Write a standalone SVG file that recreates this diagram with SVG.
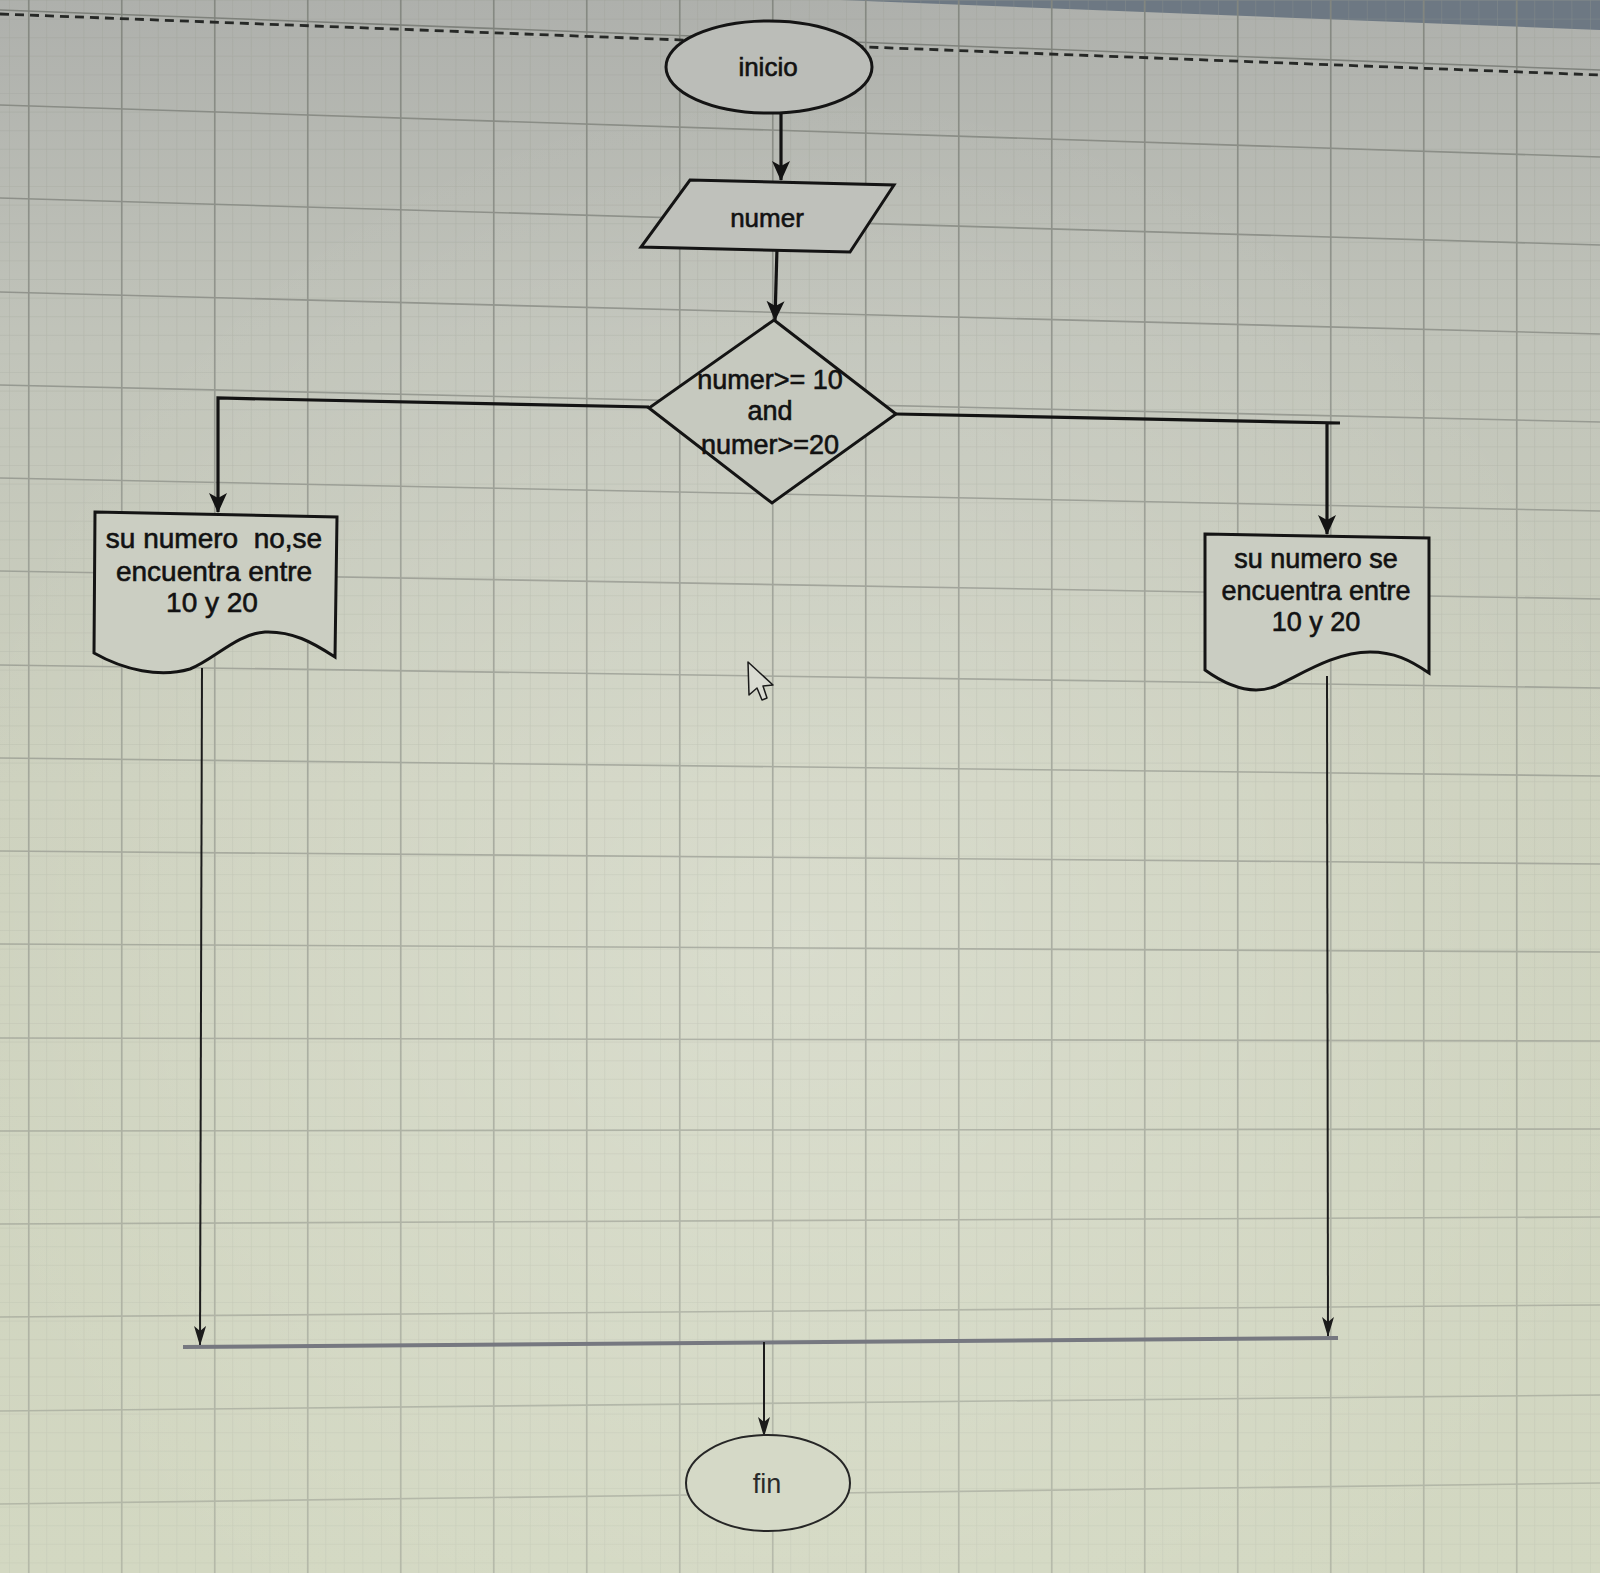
<svg xmlns="http://www.w3.org/2000/svg" width="1600" height="1573" viewBox="0 0 1600 1573">
  <style>
    .shape { stroke: #141414; stroke-width: 3; stroke-linejoin: miter; }
    .lbl { font-family: "Liberation Sans", Arial, sans-serif; fill: #121212; stroke: #121212; stroke-width: 0.6; text-anchor: middle; }
    .major { stroke: #83867f; stroke-width: 1.6; fill: none; }
    .heavy { stroke: #131313; stroke-width: 3.2; fill: none; }
    .thin { stroke: #1c1c1c; stroke-width: 2; fill: none; }
  </style>
  <defs>
    <linearGradient id="paper" x1="0" y1="0" x2="0" y2="1">
      <stop offset="0" stop-color="#aeb0ac"/>
      <stop offset="0.22" stop-color="#c1c4ba"/>
      <stop offset="0.5" stop-color="#cdd1be"/>
      <stop offset="1" stop-color="#d3d8c2"/>
    </linearGradient>
    <radialGradient id="glow" cx="0.5" cy="0.6" r="0.55">
      <stop offset="0" stop-color="#ffffff" stop-opacity="0.22"/>
      <stop offset="1" stop-color="#ffffff" stop-opacity="0"/>
    </radialGradient>
    <linearGradient id="fadeGrad" x1="0" y1="0" x2="0" y2="1">
      <stop offset="0" stop-color="#ffffff" stop-opacity="0.95"/>
      <stop offset="0.35" stop-color="#ffffff" stop-opacity="0.6"/>
      <stop offset="1" stop-color="#ffffff" stop-opacity="0.38"/>
    </linearGradient>
    <mask id="gridFade" maskUnits="userSpaceOnUse" x="0" y="0" width="1600" height="1573">
      <rect width="1600" height="1573" fill="url(#fadeGrad)"/>
    </mask>
    <pattern id="minor" width="18.6" height="18.6" patternUnits="userSpaceOnUse" x="9" y="0">
      <path d="M0,0 V18.6 M0,0 H18.6" stroke="#979a8f" stroke-width="1" opacity="0.55" fill="none"/>
    </pattern>
    <pattern id="vmajor" width="93" height="40" patternUnits="userSpaceOnUse" x="28" y="0">
      <line x1="0.8" y1="0" x2="0.8" y2="40" stroke="#83867f" stroke-width="1.6"/>
    </pattern>
    <marker id="headBig" viewBox="0 0 20 20" refX="19" refY="10" markerWidth="20" markerHeight="20" markerUnits="userSpaceOnUse" orient="auto">
      <path d="M0,1 L20,10 L0,19 L5,10 Z" fill="#131313"/>
    </marker>
    <marker id="headThin" viewBox="0 0 20 12" refX="19" refY="6" markerWidth="20" markerHeight="12" markerUnits="userSpaceOnUse" orient="auto">
      <path d="M0,0 L20,6 L0,12 L5,6 Z" fill="#1c1c1c"/>
    </marker>
  </defs>

  <!-- drawing canvas with grid -->
  <g id="canvas">
    <rect width="1600" height="1573" fill="url(#paper)"/>
    <rect width="1600" height="1573" fill="url(#glow)"/>
    <polygon points="840,0 1600,0 1600,30" fill="#6d7883"/>
    <g mask="url(#gridFade)">
      <rect width="1600" height="1573" fill="url(#minor)"/>
      <rect width="1600" height="1573" fill="url(#vmajor)"/>
      <g class="major">
        <line x1="0" y1="105" x2="1600" y2="157"/>
        <line x1="0" y1="198" x2="1600" y2="245"/>
        <line x1="0" y1="292" x2="1600" y2="334"/>
        <line x1="0" y1="385" x2="1600" y2="422"/>
        <line x1="0" y1="478" x2="1600" y2="511"/>
        <line x1="0" y1="571" x2="1600" y2="599"/>
        <line x1="0" y1="665" x2="1600" y2="688"/>
        <line x1="0" y1="758" x2="1600" y2="776"/>
        <line x1="0" y1="851" x2="1600" y2="864"/>
        <line x1="0" y1="944" x2="1600" y2="952"/>
        <line x1="0" y1="1038" x2="1600" y2="1041"/>
        <line x1="0" y1="1131" x2="1600" y2="1129"/>
        <line x1="0" y1="1224" x2="1600" y2="1217"/>
        <line x1="0" y1="1317" x2="1600" y2="1305"/>
        <line x1="0" y1="1411" x2="1600" y2="1395"/>
        <line x1="0" y1="1504" x2="1600" y2="1483"/>
      </g>
      <line x1="0" y1="10" x2="1600" y2="70" stroke="#7b7e78" stroke-width="1.5"/>
    </g>
    <line x1="0" y1="14" x2="1600" y2="75" stroke="#262826" stroke-width="2.8" stroke-dasharray="9 6"/>
  </g>

  <!-- connectors -->
  <g id="connectors">
    <path class="heavy" d="M781,113 L781,180" marker-end="url(#headBig)"/>
    <path class="heavy" d="M777,248 L775,320" marker-end="url(#headBig)"/>
    <path class="heavy" d="M649,407 L218,398 L218,512" marker-end="url(#headBig)"/>
    <path class="heavy" d="M896,414 L1340,423 M1327,423 L1327,534" marker-end="url(#headBig)"/>
    <path class="thin" d="M202,668 L200,1345" marker-end="url(#headThin)"/>
    <path class="thin" d="M1327,676 L1328,1336" marker-end="url(#headThin)"/>
    <path d="M183,1347 L1338,1338" stroke="#767880" stroke-width="4" fill="none"/>
    <path class="thin" d="M764,1342 L764,1436" marker-end="url(#headThin)"/>
  </g>

  <!-- start terminal -->
  <g id="inicio">
    <ellipse class="shape" cx="769" cy="67" rx="103" ry="46" fill="#bbbdb8"/>
    <text class="lbl" x="768" y="76" font-size="26">inicio</text>
  </g>

  <!-- input -->
  <g id="numer">
    <path class="shape" d="M690,180 L894,185 L850,252 L641,247 Z" fill="#bfc1bb"/>
    <text class="lbl" x="767" y="227" font-size="26">numer</text>
  </g>

  <!-- decision -->
  <g id="condicion">
    <path class="shape" d="M774,320 L896,414 L772,503 L649,408 Z" fill="#c6c9bf"/>
    <text class="lbl" x="770" y="389" font-size="27">numer&gt;= 10</text>
    <text class="lbl" x="770" y="420" font-size="27">and</text>
    <text class="lbl" x="770" y="454" font-size="27">numer&gt;=20</text>
  </g>

  <!-- output when outside the range -->
  <g id="salida-no">
    <path class="shape" d="M95,512 L337,517 L335,657 C312,642 292,631 265,632 C236,634 215,659 190,669 C160,678 124,670 94,653 Z" fill="#cbcec2"/>
    <text class="lbl" x="214" y="548" font-size="28" xml:space="preserve">su numero  no,se</text>
    <text class="lbl" x="214" y="581" font-size="28">encuentra entre</text>
    <text class="lbl" x="212" y="612" font-size="28">10 y 20</text>
  </g>

  <!-- output when inside the range -->
  <g id="salida-si">
    <path class="shape" d="M1205,534 L1429,538 L1429,673 C1410,660 1394,652 1370,652 C1335,652 1302,674 1276,686 C1254,695 1230,688 1205,670 Z" fill="#cacdc2"/>
    <text class="lbl" x="1316" y="568" font-size="27">su numero se</text>
    <text class="lbl" x="1316" y="600" font-size="27">encuentra entre</text>
    <text class="lbl" x="1316" y="631" font-size="27">10 y 20</text>
  </g>

  <!-- end terminal -->
  <g id="fin">
    <ellipse cx="768" cy="1483" rx="82" ry="48" fill="#d5d9c7" stroke="#262626" stroke-width="2"/>
    <text x="767" y="1493" font-size="27" text-anchor="middle" font-family="Liberation Sans, Arial, sans-serif" fill="#2a2a2a">fin</text>
  </g>

  <!-- mouse pointer -->
  <path d="M748,662 L749,695 L757,688 L762,700 L767,698 L763,686 L773,685 Z" fill="#d9dbd2" stroke="#1a1a1a" stroke-width="1.5" stroke-linejoin="round"/>
</svg>
